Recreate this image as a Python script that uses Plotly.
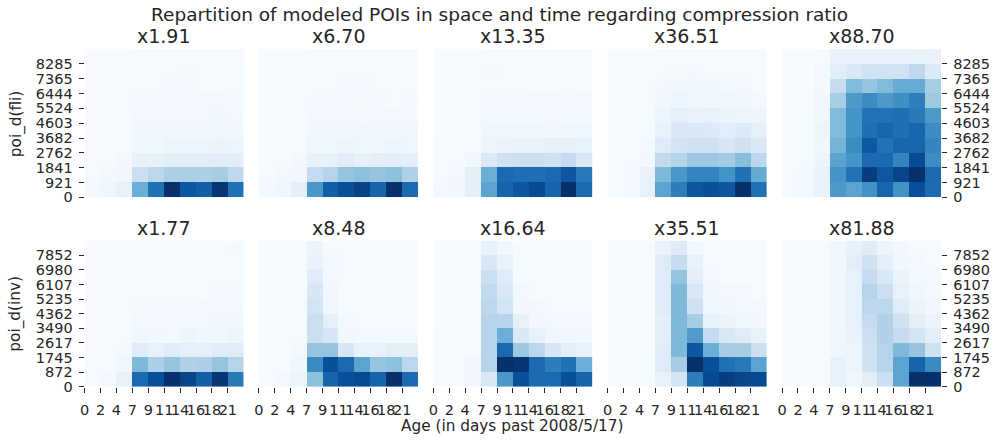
import plotly.graph_objects as go

# Age bins (days past 2008/5/17) and distance bins for each row of panels
age_labels = ["0", "2", "4", "7", "9", "11", "14", "16", "18", "21"]
fli_labels = ["0", "921", "1841", "2762", "3682", "4603", "5524", "6444", "7365", "8285"]
inv_labels = ["0", "872", "1745", "2617", "3490", "4362", "5235", "6107", "6980", "7852"]

fli_ratios = ["x1.91", "x6.70", "x13.35", "x36.51", "x88.70"]
inv_ratios = ["x1.77", "x8.48", "x16.64", "x35.51", "x81.88"]

# Relative POI density per (distance bin, age bin); first row = lowest distance bin
fli_191 = [
    [2, 4, 8, 50, 75, 100, 85, 82, 98, 75],
    [1, 2, 3, 22, 28, 33, 33, 33, 35, 27],
    [0.5, 1, 2, 8, 8, 10, 10, 10, 11, 10],
    [0.5, 0.5, 1, 4, 4, 5, 5, 5, 6, 5],
    [0, 0.5, 0.5, 3, 3, 3, 3, 3, 4, 3],
    [0, 0.5, 0.5, 2, 2, 2, 2, 2, 3, 2],
    [0, 0, 0.5, 1.5, 1.5, 2, 2, 2, 2, 1.5],
    [0, 0, 0.5, 1, 1, 1.5, 1.5, 1, 1, 1],
    [0, 0, 0, 1, 1, 1, 1.5, 1, 1, 1],
    [0, 0, 0, 0.5, 0.5, 0.5, 1, 0.5, 0.5, 0.5],
]
fli_670 = [
    [2, 4, 10, 60, 82, 88, 93, 80, 100, 78],
    [1, 2, 3, 25, 30, 40, 42, 40, 42, 32],
    [0.5, 1, 2, 8, 8, 11, 8, 10, 10, 9],
    [0.5, 0.5, 1, 4, 4, 5, 4, 4, 5, 4],
    [0, 0, 0.5, 3, 3, 3, 3, 3, 3, 3],
    [0, 0, 0.5, 2, 2, 2, 1.5, 2, 2, 2],
    [0, 0, 0.5, 1.5, 1.5, 1.5, 1.5, 1.5, 1, 1.5],
    [0, 0, 0, 1, 1, 2, 2, 1, 1, 1],
    [0, 0, 0, 1, 1, 1, 1, 1, 1, 1],
    [0, 0, 0, 0.5, 0.5, 0.5, 0.5, 0.5, 0.5, 0.5],
]
fli_1335 = [
    [2, 3, 10, 55, 80, 85, 90, 80, 100, 78],
    [1, 2, 10, 50, 78, 76, 76, 78, 85, 72],
    [1, 1, 3, 14, 20, 22, 22, 20, 25, 15],
    [0.5, 0.5, 1, 5, 6, 7, 7, 9, 9, 8],
    [0, 0, 0.5, 4, 4, 4, 4, 3, 4, 4],
    [0, 0, 0.5, 2, 2, 2, 2, 2, 2, 2],
    [0, 0, 0.5, 1.5, 1.5, 1.5, 2, 2, 1.5, 2],
    [0, 0, 0, 1, 1, 1, 1, 1, 1, 1],
    [0, 0, 0, 1.5, 1, 1, 1, 1, 1, 1],
    [0, 0, 0, 0.5, 0.5, 0.5, 0.5, 0.5, 0.5, 0.5],
]
fli_3651 = [
    [1, 2, 8, 55, 70, 85, 88, 85, 100, 75],
    [1, 2, 7, 45, 60, 68, 68, 62, 75, 52],
    [0.5, 1, 3, 26, 30, 38, 38, 36, 43, 28],
    [0.5, 1, 2, 12, 18, 20, 20, 16, 20, 14],
    [0.5, 0.5, 1, 8, 14, 14, 13, 11, 13, 9],
    [0.5, 0.5, 1, 5, 9, 7, 8, 6, 5, 5],
    [0, 0, 0.5, 3, 5, 4, 4, 4, 3, 2],
    [0, 0, 0.5, 2, 3, 3, 3, 2, 2, 1],
    [0, 0, 0, 1, 1.5, 2, 1, 1, 1, 1],
    [0, 0, 0, 0.5, 0.5, 0.5, 0.5, 0.5, 0.5, 0.5],
]
fli_8870 = [
    [2, 3, 8, 60, 55, 63, 80, 63, 88, 77],
    [2, 3, 8, 62, 75, 95, 85, 92, 100, 78],
    [1, 2, 6, 55, 62, 78, 78, 68, 90, 65],
    [1, 2, 5, 48, 65, 85, 75, 80, 80, 68],
    [1, 2, 6, 45, 62, 76, 80, 76, 80, 65],
    [1, 2, 5, 45, 62, 75, 75, 76, 72, 60],
    [1, 2, 4, 35, 60, 65, 60, 64, 70, 38],
    [1, 1, 3, 25, 45, 40, 45, 52, 52, 35],
    [1, 1, 3, 12, 15, 20, 20, 20, 28, 14],
    [1, 1, 2, 8, 8, 8, 8, 8, 9, 8],
]

inv_177 = [
    [1, 2, 8, 78, 88, 100, 92, 82, 98, 72],
    [1, 1, 4, 45, 33, 40, 32, 33, 40, 30],
    [0.5, 0.5, 1.5, 12, 8, 12, 9, 9, 12, 12],
    [0, 0, 1, 4, 3, 2, 5, 4, 4, 5],
    [0, 0, 0.5, 2, 2, 2, 2, 2, 3, 3],
    [0, 0, 0.5, 1.5, 1.5, 1.5, 1.5, 2, 2, 2],
    [0, 0, 0.5, 1, 1, 1, 1, 1, 1.5, 1.5],
    [0, 0, 0, 1, 1, 1, 1, 1, 1, 1],
    [0, 0, 0, 0.5, 0.5, 0.5, 0.5, 0.5, 1, 1],
    [0, 0, 0, 0.5, 0.5, 0.5, 0.5, 0.5, 0.5, 1.5],
]
inv_848 = [
    [1, 2, 5, 42, 80, 88, 90, 80, 100, 78],
    [0.5, 1, 4, 65, 88, 78, 55, 40, 42, 28],
    [0.5, 0.5, 2, 40, 40, 16, 8, 8, 10, 10],
    [0, 0.5, 1, 22, 16, 3, 2, 2, 2, 2],
    [0, 0.5, 1, 22, 9, 2, 1, 1, 1, 1],
    [0, 0.5, 1, 18, 4, 1, 1, 1, 1, 1],
    [0, 0.5, 1, 16, 3, 1, 1, 1, 1, 1],
    [0, 0.5, 1, 12, 2, 1, 1, 1, 1, 1],
    [0, 0, 0.5, 7, 2, 1, 0.5, 0.5, 0.5, 0.5],
    [0, 0, 0.5, 5, 1, 0.5, 0.5, 0.5, 0.5, 0.5],
]
inv_1664 = [
    [1, 1, 3, 15, 60, 88, 78, 78, 88, 80],
    [0.5, 1, 3, 30, 100, 98, 78, 70, 75, 50],
    [0.5, 0.5, 1, 30, 78, 38, 28, 16, 10, 8],
    [0.5, 0.5, 1, 30, 50, 14, 8, 4, 3, 3],
    [0, 0.5, 1, 30, 30, 8, 3, 2, 2, 2],
    [0, 0.5, 1, 28, 18, 3, 2, 1, 1, 1],
    [0, 0, 1, 26, 15, 2, 1, 1, 1, 1],
    [0, 0, 0.5, 22, 12, 1, 1, 1, 1, 1],
    [0, 0, 0.5, 15, 7, 1, 0.5, 0.5, 0.5, 0.5],
    [0, 0, 0.5, 8, 3, 0.5, 0.5, 0.5, 0.5, 0.5],
]
inv_3551 = [
    [0.5, 0.5, 1, 8, 18, 70, 90, 95, 92, 90],
    [0.5, 0.5, 1, 12, 35, 100, 88, 75, 72, 55],
    [0.5, 0.5, 1, 12, 45, 85, 50, 35, 35, 22],
    [0, 0.5, 0.5, 10, 45, 58, 25, 15, 12, 8],
    [0, 0.5, 0.5, 10, 45, 35, 8, 6, 4, 3],
    [0, 0, 0.5, 12, 45, 20, 4, 3, 2, 2],
    [0, 0, 0.5, 12, 45, 15, 3, 2, 2, 1],
    [0, 0, 0.5, 12, 40, 10, 2, 1, 1, 1],
    [0, 0, 0.5, 12, 25, 8, 1, 1, 1, 1],
    [0, 0, 0.5, 7, 12, 2, 0.5, 0.5, 0.5, 0.5],
]
inv_8188 = [
    [0, 0, 0.5, 8, 4, 10, 22, 55, 100, 100],
    [0, 0, 0.5, 8, 5, 20, 30, 55, 80, 65],
    [0, 0, 0.5, 4, 5, 20, 30, 45, 40, 20],
    [0, 0, 0.5, 3, 7, 22, 32, 25, 18, 10],
    [0, 0, 0.5, 3, 8, 25, 32, 20, 10, 6],
    [0, 0, 0.5, 3, 8, 28, 28, 12, 6, 3],
    [0, 0, 0.5, 3, 8, 30, 22, 8, 4, 2],
    [0, 0, 0.5, 3, 8, 25, 15, 6, 2, 2],
    [0, 0, 0.5, 3, 10, 20, 10, 3, 2, 1],
    [0, 0, 0.5, 3, 8, 12, 5, 2, 1, 1],
]

fli_panels = [fli_191, fli_670, fli_1335, fli_3651, fli_8870]
inv_panels = [inv_177, inv_848, inv_1664, inv_3551, inv_8188]

# ColorBrewer "Blues" (9 classes)
blues = [
    [0.0, "rgb(247,251,255)"], [0.125, "rgb(222,235,247)"], [0.25, "rgb(198,219,239)"],
    [0.375, "rgb(158,202,225)"], [0.5, "rgb(107,174,214)"], [0.625, "rgb(66,146,198)"],
    [0.75, "rgb(33,113,181)"], [0.875, "rgb(8,81,156)"], [1.0, "rgb(8,48,107)"],
]

W, H = 993, 443
FONT = "DejaVu Sans"
TXT = "#262626"
TICK_SIZE = 14.5


def px_x(x):
    return x / W


def px_y(y):
    return 1 - y / H


# panel geometry in pixels
left0, pw, step = 80, 160, 175.25
rows_px = [(50, 201), (245, 394)]

fig = go.Figure()
edges = list(range(11))

ax_i = 0
for r, (panels, ylabels, ratios) in enumerate(
    [(fli_panels, fli_labels, fli_ratios), (inv_panels, inv_labels, inv_ratios)]
):
    top, bot = rows_px[r]
    for c in range(5):
        ax_i += 1
        xs = "x" if ax_i == 1 else f"x{ax_i}"
        ys = "y" if ax_i == 1 else f"y{ax_i}"
        xa = "xaxis" if ax_i == 1 else f"xaxis{ax_i}"
        ya = "yaxis" if ax_i == 1 else f"yaxis{ax_i}"
        x0 = left0 + c * step
        fig.add_trace(go.Heatmap(
            z=panels[c], x=edges, y=edges, colorscale=blues, showscale=False,
            xaxis=xs, yaxis=ys, zmin=0, hoverinfo="skip",
        ))
        bottom_row = r == 1
        fig.layout[xa] = dict(
            domain=[px_x(x0), px_x(x0 + pw)], anchor=ys, range=[0, 10],
            showgrid=False, zeroline=False, showline=False,
            tickmode="array", tickvals=list(range(10)), ticktext=age_labels,
            tickangle=0, ticklabelstandoff=5,
            ticks="outside" if bottom_row else "", ticklen=5, tickwidth=1, tickcolor=TXT,
            showticklabels=bottom_row,
            tickfont=dict(family=FONT, size=TICK_SIZE, color=TXT),
        )
        show_y = c in (0, 4)
        fig.layout[ya] = dict(
            domain=[px_y(bot), px_y(top)], anchor=xs, range=[0, 10],
            side="left" if c == 0 else "right",
            showgrid=False, zeroline=False, showline=False,
            tickmode="array", tickvals=list(range(10)), ticktext=ylabels,
            ticklabelstandoff=3,
            ticks="outside" if show_y else "", ticklen=5, tickwidth=1, tickcolor=TXT,
            showticklabels=show_y,
            tickfont=dict(family=FONT, size=TICK_SIZE, color=TXT),
        )
        fig.add_annotation(
            text=ratios[c], x=px_x(x0 + pw / 2), y=px_y(top - 13),
            xref="paper", yref="paper", showarrow=False,
            font=dict(family=FONT, size=19, color=TXT),
            xanchor="center", yanchor="middle",
        )

fig.add_annotation(
    text="Repartition of modeled POIs in space and time regarding compression ratio",
    x=px_x(497), y=px_y(15), xref="paper", yref="paper", showarrow=False,
    font=dict(family=FONT, size=18.5, color=TXT), xanchor="center", yanchor="middle",
)
fig.add_annotation(
    text="Age (in days past 2008/5/17)", x=px_x(510), y=px_y(434),
    xref="paper", yref="paper", showarrow=False,
    font=dict(family=FONT, size=15.3, color=TXT), xanchor="center", yanchor="middle",
)
fig.add_annotation(
    text="poi_d(fli)", x=px_x(11), y=px_y(125.5), textangle=-90,
    xref="paper", yref="paper", showarrow=False,
    font=dict(family=FONT, size=15.3, color=TXT), xanchor="center", yanchor="middle",
)
fig.add_annotation(
    text="poi_d(inv)", x=px_x(11), y=px_y(319.5), textangle=-90,
    xref="paper", yref="paper", showarrow=False,
    font=dict(family=FONT, size=15.3, color=TXT), xanchor="center", yanchor="middle",
)

fig.update_layout(
    width=W, height=H, margin=dict(l=0, r=0, t=0, b=0),
    paper_bgcolor="white", plot_bgcolor="white", showlegend=False,
)

fig.write_html("out.html")
